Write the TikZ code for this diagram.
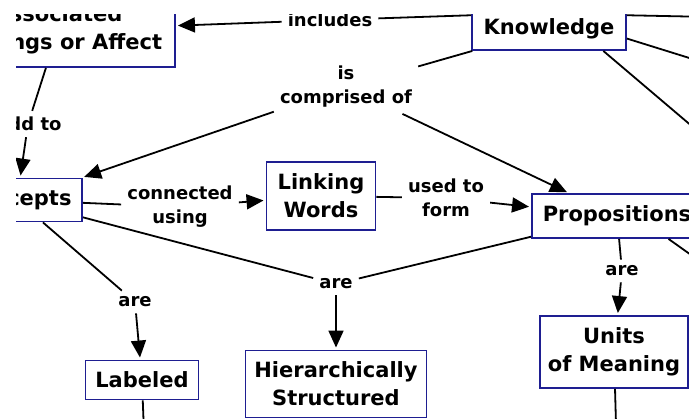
\documentclass[tikz,border=0pt]{standalone}
\usepackage{fontspec}
\setmainfont{DejaVu Sans}
\usepackage{xcolor}
\usetikzlibrary{arrows.meta}
\definecolor{cmapblue}{RGB}{30,30,145}

\begin{document}
\begin{tikzpicture}[x=1pt, y=-1pt,
    concept/.style={rectangle, draw=cmapblue, line width=1.9pt, fill=white, align=center, inner sep=0pt, font=\fontsize{21}{28}\selectfont\bfseries},
    linkword/.style={align=center, inner sep=6pt, font=\fontsize{18}{24}\selectfont\bfseries},
    link/.style={line width=1.8pt},
    linkarrow/.style={link, -{Triangle[length=17pt, width=15pt]}, shorten >=2pt}]

        \useasboundingbox (0,0) rectangle (689,419);
        \clip (16,15) rectangle (689,419);

        % Concept boxes (the map is cut at the edges)
        \node[concept, minimum width=234, minimum height=74] (affect) at (58,30) {Associated\\Feelings or Affect};
        \node[concept, minimum width=154, minimum height=42] (know) at (549,29) {Knowledge};
        \node[concept, minimum width=130, minimum height=43] (concepts) at (17,200) {Concepts};
        \node[concept, minimum width=109, minimum height=68] (linking) at (321,196) {Linking\\Words};
        \node[concept, minimum width=170, minimum height=44] (props) at (617,216) {Propositions};
        \node[concept, minimum width=113, minimum height=39] (labeled) at (142,380) {Labeled};
        \node[concept, minimum width=181, minimum height=67] (hier) at (336,384) {Hierarchically\\Structured};
        \node[concept, minimum width=148, minimum height=72] (units) at (614,352) {Units\\of Meaning};

        % Linking phrases
        \node[linkword] (incl) at (330,20) {includes};
        \node[linkword] (comp) at (346,87) {is\\comprised of};
        \node[linkword] (addto) at (28,124) {Add to};
        \node[linkword] (connu) at (180,207) {connected\\using};
        \node[linkword] (usedf) at (446,198) {used to\\form};
        \node[linkword] (aremid) at (336,284) {are};
        \node[linkword] (areleft) at (135,302) {are};
        \node[linkword] (areright) at (622,271) {are};

        % Free ends leading out of the frame
        \coordinate (knowout1) at (760,18);
        \coordinate (knowout2) at (760,80);
        \coordinate (knowout3) at (760,184);
        \coordinate (propsout) at (760,304);
        \coordinate (labeledout) at (145,460);
        \coordinate (unitsout) at (617,460);

        % Connectors
        \draw[link] (know.170) -- (incl);
        \draw[linkarrow] (incl) -- (affect);
        \draw[link] (know) -- (comp);
        \draw[linkarrow] (comp) -- (concepts);
        \draw[linkarrow] (comp) -- (props);
        \draw[link] (affect) -- (addto);
        \draw[linkarrow] (addto) -- (concepts);
        \draw[link] (concepts) -- (connu);
        \draw[linkarrow] (connu) -- (linking);
        \draw[link] (linking) -- (usedf);
        \draw[linkarrow] (usedf) -- (props);
        \draw[link] (concepts) -- (aremid);
        \draw[link] (props) -- (aremid);
        \draw[linkarrow] (aremid) -- (hier);
        \draw[link] (concepts) -- (areleft);
        \draw[linkarrow] (areleft) -- (labeled);
        \draw[link] (props) -- (areright);
        \draw[linkarrow] (areright) -- (units);
        \draw[link] (know.10) -- (knowout1);
        \draw[link] (know.-7) -- (knowout2);
        \draw[link] (know.-22) -- (knowout3);
        \draw[link] (props.-24) -- (propsout);
        \draw[link] (labeled) -- (labeledout);
        \draw[link] (units) -- (unitsout);

\end{tikzpicture}
\end{document}
